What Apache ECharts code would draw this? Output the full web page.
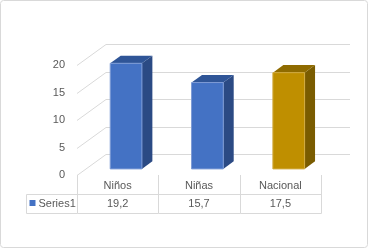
<!DOCTYPE html>
<html>
<head>
<meta charset="utf-8">
<script src="https://cdn.jsdelivr.net/npm/echarts@6/dist/echarts.min.js"></script>
<style>
html, body { margin: 0; padding: 0; background: #fff; }
#chart { width: 368px; height: 248px; }
</style>
</head>
<body>
<div id="chart"></div>
<script>
var categories = ["Niños", "Niñas", "Nacional"];
var values = [19.2, 15.7, 17.5];
var valueLabels = ["19,2", "15,7", "17,5"];
var yTicks = [0, 5, 10, 15, 20];
var seriesName = "Series1";

var frontColors = ["#4472C4", "#4472C4", "#BF8F00"];
var edgeColors = ["#7D9BD6", "#7D9BD6", "#D2AC40"];
var topColors = ["#2F5597", "#2F5597", "#8F6B00"];
var sideColors = ["#2B4A84", "#2B4A84", "#7A5C00"];

// 3d depth of the floor / side wall, and where the bars sit in it
var DX = 29, DY = -21;
var BAR_OFF = 0.29, BAR_DEPTH = 0.36, BAR_W = 0.39;
var GRID_COLOR = "#D9D9D9";
var TEXT_COLOR = "#595959";
var FONT = "11px 'Liberation Sans', Arial, sans-serif";

var chart = echarts.init(document.getElementById("chart"));

function px(v) { return Math.round(v) + 0.5; }

function renderWall(params, api) {
  var v = api.value(1);
  var p = api.coord([0, v]);
  var band = api.size([1, 0])[0];
  var xl = Math.round(p[0] - band / 2);
  var xr = Math.round(api.coord([categories.length - 1, v])[0] + band / 2);
  var y = Math.round(p[1]);
  return {
    type: "group",
    children: [
      { type: "polyline", shape: { points: [[xl, y + 0.5], [xl + DX, y + DY + 0.5], [xr + DX, y + DY + 0.5]] },
        style: { stroke: GRID_COLOR, lineWidth: 1, fill: null } }
    ]
  };
}

function renderBar(params, api) {
  var i = api.value(0);
  var base = api.coord([i, 0]);
  var top = api.coord([i, api.value(1)]);
  var band = api.size([1, 0])[0];
  var bw = band * BAR_W;
  var ox = DX * BAR_OFF, oy = DY * BAR_OFF;
  var dx = DX * BAR_DEPTH, dy = DY * BAR_DEPTH;
  var x0 = base[0] - bw / 2 + ox;
  var x1 = x0 + bw;
  var ty = top[1] + oy;
  var by = base[1] + oy;
  return {
    type: "group",
    children: [
      { type: "polygon", shape: { points: [[x1, ty], [x1 + dx, ty + dy], [x1 + dx, by + dy], [x1, by]] },
        style: { fill: sideColors[i] } },
      { type: "polygon", shape: { points: [[x0, ty], [x1, ty], [x1 + dx, ty + dy], [x0 + dx, ty + dy]] },
        style: { fill: topColors[i] } },
      { type: "rect", shape: { x: x0, y: ty, width: bw, height: by - ty },
        style: { fill: frontColors[i], stroke: edgeColors[i], lineWidth: 1 } }
    ]
  };
}

function renderTable(params, api) {
  var i = api.value(0);
  var p = api.coord([i, 0]);
  var band = api.size([1, 0])[0];
  var xl = px(p[0] - band / 2);
  var xr = px(p[0] + band / 2);
  var y0 = Math.round(p[1]);
  var y1 = y0 + 19.5, y2 = y0 + 38.5;
  var line = function (pts) {
    return { type: "polyline", shape: { points: pts }, style: { stroke: GRID_COLOR, lineWidth: 1, fill: null } };
  };
  var text = function (t, x, y, align) {
    return { type: "text", style: { text: t, x: x, y: y, textAlign: align || "center", textVerticalAlign: "middle", fill: TEXT_COLOR, font: FONT } };
  };
  var children = [
    line([[xl, y0], [xl, y2]]),
    line([[xl, y1], [xr, y1]]),
    line([[xl, y2], [xr, y2]]),
    text(categories[i], p[0], y0 + 11),
    text(valueLabels[i], p[0], y0 + 29)
  ];
  if (i === categories.length - 1) children.push(line([[xr, y0], [xr, y2]]));
  if (i === 0) {
    var hx = xl - 51;
    children.push(line([[hx, y1], [xl, y1]]));
    children.push(line([[hx, y2], [xl, y2]]));
    children.push(line([[hx, y1], [hx, y2]]));
    children.push({ type: "rect", shape: { x: hx + 3, y: y0 + 25, width: 6, height: 6 }, style: { fill: frontColors[0] } });
    children.push(text(seriesName, hx + 12, y0 + 29, "left"));
  }
  return { type: "group", children: children };
}

var option = {
  animation: false,
  grid: { left: 77, right: 47, top: 65, bottom: 73 },
  xAxis: {
    type: "category",
    data: categories,
    axisLine: { show: false },
    axisTick: { show: false },
    axisLabel: { show: false },
    splitLine: { show: false }
  },
  yAxis: {
    type: "value",
    min: 0,
    max: 20,
    interval: 5,
    axisLine: { show: false },
    axisTick: { show: false },
    splitLine: { show: false },
    axisLabel: { color: TEXT_COLOR, fontSize: 11, fontFamily: "Liberation Sans", margin: 12 }
  },
  graphic: [
    { type: "rect", shape: { x: 0.5, y: 0.5, width: 367, height: 247, r: 3 },
      style: { fill: null, stroke: GRID_COLOR, lineWidth: 1 }, silent: true }
  ],
  series: [
    { type: "custom", name: "walls", renderItem: renderWall, data: yTicks.map(function (v) { return [0, v]; }), silent: true, z: 1 },
    { type: "custom", name: seriesName, renderItem: renderBar, data: values.map(function (v, i) { return [i, v]; }), z: 3 },
    { type: "custom", name: "table", renderItem: renderTable, data: categories.map(function (c, i) { return [i, 0]; }), silent: true, z: 2 }
  ]
};

chart.setOption(option);
</script>
</body>
</html>
